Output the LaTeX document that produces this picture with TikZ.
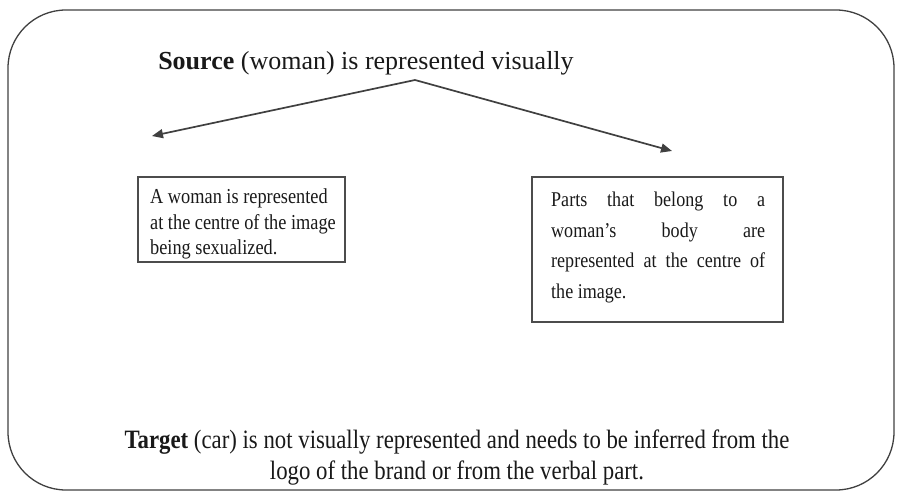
\documentclass[tikz,border=0pt]{standalone}
\usepackage{fontspec}
\setmainfont{Liberation Serif}
\newfontfamily\narrowserif{Liberation Serif}[FakeStretch=0.86]
\usetikzlibrary{arrows.meta}
% one fully justified line of fixed width
\newcommand{\jline}[1]{\makebox[214pt][s]{#1}}
\begin{document}
\begin{tikzpicture}[x=1pt,y=-1pt,
  txt/.style={inner sep=0pt, text=black!90},
  card/.style={draw=black!70, line width=1.3pt},
  link/.style={draw=black!75, line width=1.7pt, -{Triangle[length=11pt,width=9pt]}}]
\useasboundingbox (0,0) rectangle (903,497);
% outer frame
\draw[draw=black!75, line width=1.3pt, rounded corners=58pt] (8,10) rectangle (894,490);
% heading
\node[txt, font=\fontsize{26}{30}\selectfont] (src) at (366,63)
  {\textbf{Source} (woman) is represented visually};
\coordinate (apex) at (415,80);
\coordinate (lt) at (152,136);
\coordinate (rt) at (672,151);
\draw[link] (apex) -- (lt);
\draw[link] (apex) -- (rt);
% left card
\draw[card] (138,177) rectangle (345,262);
\node[txt, font=\narrowserif\fontsize{21.3}{25.5}\selectfont, anchor=north west, align=left] (left) at (150,189)
  {A woman is represented\\at the centre of the image\\being sexualized.};
% right card
\draw[card] (532,177) rectangle (783,322);
\node[txt, font=\narrowserif\fontsize{21}{30.5}\selectfont, anchor=north west, align=left] (right) at (551,192)
  {\jline{Parts that belong to a}\\
   \jline{woman’s body are}\\
   \jline{represented at the centre of}\\
   the image.};
% bottom statement
\node[txt, font=\narrowserif\fontsize{26.5}{31}\selectfont, align=center] (tgt) at (457,458)
  {\textbf{Target} (car) is not visually represented and needs to be inferred from the\\
   logo of the brand or from the verbal part.};
\end{tikzpicture}
\end{document}
